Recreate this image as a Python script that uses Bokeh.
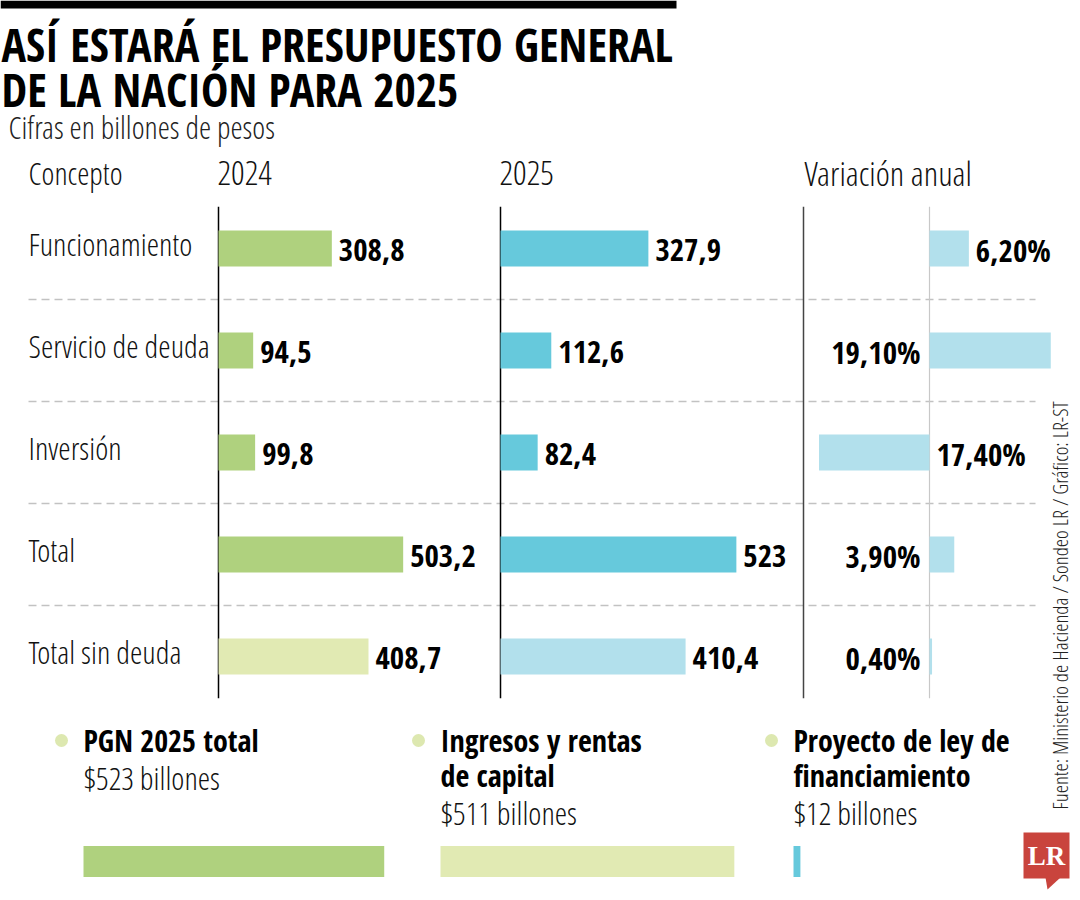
import math
from bokeh.plotting import figure
from bokeh.models import Range1d
from bokeh.core.properties import value
from bokeh.embed import file_html
from bokeh.resources import INLINE

# ---------------- data ----------------
title_lines = ["ASÍ ESTARÁ EL PRESUPUESTO GENERAL", "DE LA NACIÓN PARA 2025"]
subtitle = "Cifras en billones de pesos"
column_headers = ["Concepto", "2024", "2025", "Variación anual"]
categories = ["Funcionamiento", "Servicio de deuda", "Inversión", "Total", "Total sin deuda"]
values_2024 = [308.8, 94.5, 99.8, 503.2, 408.7]
values_2025 = [327.9, 112.6, 82.4, 523.0, 410.4]
variation_pct = [6.2, 19.1, -17.4, 3.9, 0.4]
labels_2024 = ["308,8", "94,5", "99,8", "503,2", "408,7"]
labels_2025 = ["327,9", "112,6", "82,4", "523", "410,4"]
labels_variation = ["6,20%", "19,10%", "17,40%", "3,90%", "0,40%"]
summary_titles = [["PGN 2025 total"], ["Ingresos y rentas", "de capital"], ["Proyecto de ley de", "financiamiento"]]
summary_values = [523, 511, 12]
summary_labels = ["$523 billones", "$511 billones", "$12 billones"]
source_text = "Fuente: Ministerio de Hacienda / Sondeo LR / Gráfico: LR-ST"
logo_text = "LR"

# ---------------- styles / layout ----------------
BOLD = "Open Sans Condensed, Roboto, sans-serif"
LIGHT = "Open Sans Condensed Light, Roboto, sans-serif"
SERIF = "Liberation Serif, DejaVu Serif, serif"
GREEN = "#afd17e"
GREEN_LIGHT = "#e1eab3"
CYAN = "#66c9dc"
CYAN_LIGHT = "#b2e0ec"
DOT = "#dde8b0"
GRID = "#c2c2c2"
RED = "#c9443d"
TXT = "#111111"

L, R, T, B = 0, 1072, 0, 892          # page pixel window covered by the figure
X0_2024, S_2024 = 218, 0.367          # px origin / px per unit
X0_2025, S_2025 = 500, 0.451
X0_VAR, S_VAR = 929, 6.35
ROW0, ROW_STEP = 248, 102
SUM_X0 = [83, 440, 793]
SUM_S = 0.575


def xr(origin, scale):
    return Range1d(start=(L - origin) / scale, end=(R - origin) / scale)


p = figure(width=R - L, height=B - T, x_range=Range1d(L, R), y_range=Range1d(B, T),
           x_axis_type=None, y_axis_type=None, output_backend="svg",
           toolbar_location=None, min_border=0, outline_line_color=None,
           background_fill_color="white", border_fill_color="white")
p.grid.visible = False
p.extra_x_ranges = {"r2024": xr(X0_2024, S_2024), "r2025": xr(X0_2025, S_2025),
                    "rvar": xr(X0_VAR, S_VAR)}
for i, x0 in enumerate(SUM_X0):
    p.extra_x_ranges[f"sum{i}"] = xr(x0, SUM_S)
p.extra_y_ranges = {"rows": Range1d(start=(B - ROW0) / ROW_STEP, end=(T - ROW0) / ROW_STEP)}

rows = list(range(len(categories)))

# top black band
p.quad(left=[0], right=[676], top=[0], bottom=[8], fill_color="black", line_color=None)

# title + subtitle
p.text(x=[1, 1], y=[43, 88], text=title_lines, text_font=value(BOLD),
       text_font_style="bold", text_font_size="46px", text_baseline="middle",
       text_color="black")
p.text(x=[8], y=[126], text=[subtitle], text_font=value(LIGHT),
       text_font_size="31px", text_baseline="middle", text_color="#222222")

# column headers
p.text(x=[28], y=[172], text=column_headers[:1], text_font=value(LIGHT),
       text_font_size="31px", text_baseline="middle", text_color=TXT)
p.text(x=[217, 499, 804], y=[172] * 3, text=column_headers[1:], text_font=value(LIGHT),
       text_font_size="34px", text_baseline="middle", text_color=TXT)

# dashed row separators
sep = [i + 0.5 for i in rows[:-1]]
p.segment(x0=[28] * len(sep), x1=[1035] * len(sep), y0=sep, y1=sep, y_range_name="rows",
          line_color=GRID, line_width=1.3, line_dash="8 5")

# column axes (zero lines)
for rn, col, w in [("r2024", "black", 1.5), ("r2025", "black", 1.5), ("rvar", "#c8c8c8", 1.2)]:
    p.segment(x0=[0], x1=[0], y0=[-0.41], y1=[4.41], x_range_name=rn, y_range_name="rows",
              line_color=col, line_width=w)
# separator before variation column
p.segment(x0=[803], x1=[803], y0=[-0.41], y1=[4.41], y_range_name="rows",
          line_color="#444444", line_width=1.5)

# category labels
p.text(x=[28] * len(rows), y=rows, text=categories, y_range_name="rows", y_offset=-5,
       text_font=value(LIGHT), text_font_size="31.5px", text_baseline="middle", text_color=TXT)

BAR_H = 36 / ROW_STEP
col24 = [GREEN_LIGHT if c == "Total sin deuda" else GREEN for c in categories]
col25 = [CYAN_LIGHT if c == "Total sin deuda" else CYAN for c in categories]

p.hbar(y=rows, left=0, right=values_2024, height=BAR_H, x_range_name="r2024",
       y_range_name="rows", fill_color=col24, line_color=None)
p.hbar(y=rows, left=0, right=values_2025, height=BAR_H, x_range_name="r2025",
       y_range_name="rows", fill_color=col25, line_color=None)
p.hbar(y=rows, left=0, right=variation_pct, height=BAR_H, x_range_name="rvar",
       y_range_name="rows", fill_color=CYAN_LIGHT, line_color=None)

LBL = dict(text_font=value(BOLD), text_font_style="bold", text_font_size="31px",
           text_baseline="middle", text_color="black", y_range_name="rows", y_offset=1)
p.text(x=values_2024, y=rows, text=labels_2024, x_range_name="r2024", x_offset=7, **LBL)
p.text(x=values_2025, y=rows, text=labels_2025, x_range_name="r2025", x_offset=7, **LBL)

# variation labels: right of the bar end, or left of the zero line
var_side = ["right", "left", "right", "left", "left"]
var_x = [v if (s == "right" and v > 0) else 0 for v, s in zip(variation_pct, var_side)]
var_off = [7 if s == "right" else -9 for s in var_side]
var_align = ["left" if s == "right" else "right" for s in var_side]
p.text(x=var_x, y=rows, text=labels_variation, x_range_name="rvar", x_offset=var_off,
       text_align=var_align, **LBL)

# summary blocks
for i, (lines, val, lab) in enumerate(zip(summary_titles, summary_values, summary_labels)):
    x0 = SUM_X0[i]
    p.scatter(x=[x0 - 22], y=[740], size=13, fill_color=DOT, line_color=None)
    ys = [740 + 35 * k for k in range(len(lines))]
    p.text(x=[x0] * len(lines), y=ys, text=lines, text_font=value(BOLD),
           text_font_style="bold", text_font_size="30px", text_baseline="middle",
           text_color="black")
    p.text(x=[x0], y=[ys[-1] + 37], text=[lab], text_font=value(LIGHT),
           text_font_size="31.5px", text_baseline="middle", text_color=TXT)
    color = [GREEN, GREEN_LIGHT, CYAN][i]
    p.hbar(y=[861], left=[0], right=[val], height=31, x_range_name=f"sum{i}",
           fill_color=color, line_color=None)

# source (vertical)
p.text(x=[1059], y=[605], text=[source_text], angle=math.pi / 2, text_align="center",
       text_baseline="middle", text_font=value(LIGHT), text_font_size="21px",
       text_color="#222222")

# LR logo
p.quad(left=[1023], right=[1069], top=[832], bottom=[878], fill_color=RED, line_color=None)
p.patch(x=[1045, 1060, 1047], y=[877, 877, 889], fill_color=RED, line_color=None)
p.text(x=[1046], y=[855], text=[logo_text], text_align="center", text_baseline="middle",
       text_font=value(SERIF), text_font_style="bold", text_font_size="27px",
       text_color="white")

open("out.html", "w").write(file_html(p, INLINE))
